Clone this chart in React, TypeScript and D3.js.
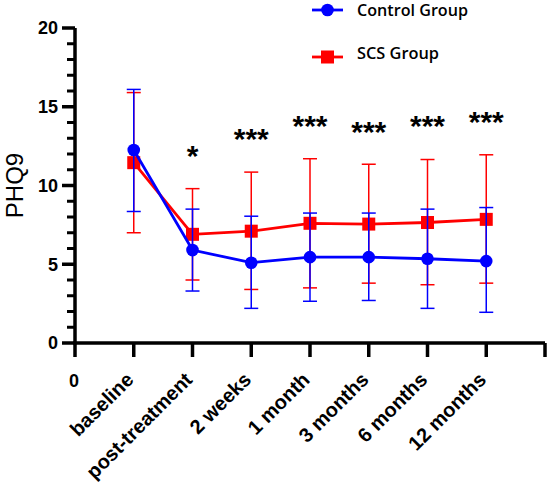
import React from "react";
import * as d3 from "d3";

const categories = ["baseline", "post-treatment", "2 weeks", "1 month", "3 months", "6 months", "12 months"];
const controlMean = [12.25, 5.9, 5.1, 5.45, 5.45, 5.35, 5.2];
const controlUpper = [16.1, 8.5, 8.05, 8.25, 8.25, 8.5, 8.6];
const controlLower = [8.35, 3.3, 2.2, 2.65, 2.7, 2.2, 1.95];
const scsMean = [11.45, 6.9, 7.1, 7.6, 7.55, 7.65, 7.85];
const scsUpper = [15.9, 9.8, 10.85, 11.7, 11.35, 11.65, 11.95];
const scsLower = [7.0, 4.0, 3.4, 3.5, 3.8, 3.7, 3.8];
const sigLabels = ["", "*", "***", "***", "***", "***", "***"];
const sigLevels = [0, 12.25, 13.35, 14.15, 13.8, 14.15, 14.4];
const yTicks = [0, 5, 10, 15, 20];

const W = 550, H = 495;
const BLUE = "#0000ff", RED = "#ff0000";

export default function App() {
  const x = d3.scaleLinear().domain([0, 8]).range([75, 545]);
  const y = d3.scaleLinear().domain([0, 20]).range([343, 28]);
  const idx = categories.map((_, i) => i + 1);
  const line = d3.line<number>().x((_, i) => x(idx[i])).y((d) => y(d));
  const minor = d3.range(0, 21, 1).filter((v) => v % 5 !== 0);
  const cap = 7;

  const errBars = (upper: number[], lower: number[], color: string) =>
    idx.map((xi, i) => (
      <g key={i} stroke={color} strokeWidth={1.5} fill="none">
        <line x1={x(xi)} x2={x(xi)} y1={y(upper[i])} y2={y(lower[i])} />
        <line x1={x(xi) - cap} x2={x(xi) + cap} y1={y(upper[i])} y2={y(upper[i])} />
        <line x1={x(xi) - cap} x2={x(xi) + cap} y1={y(lower[i])} y2={y(lower[i])} />
      </g>
    ));

  const font = "'Liberation Sans', Arial, Helvetica, sans-serif";

  return (
    <svg width={W} height={H} style={{ position: "absolute", left: 0, top: 0 }}>
      <rect width={W} height={H} fill="#fff" />
      {/* Y axis */}
      <line x1={75} x2={75} y1={y(20)} y2={y(0) + 1.5} stroke="#000" strokeWidth={3.5} />
      {yTicks.map((t) => (
        <g key={t}>
          <line x1={62} x2={75} y1={y(t)} y2={y(t)} stroke="#000" strokeWidth={3.5} />
          <text x={58} y={y(t)} dy="0.36em" textAnchor="end" fontFamily={font} fontWeight="bold" fontSize={18}>
            {t}
          </text>
        </g>
      ))}
      {minor.map((t) => (
        <line key={t} x1={67} x2={75} y1={y(t)} y2={y(t)} stroke="#000" strokeWidth={3} />
      ))}
      {/* X axis */}
      <line x1={73.25} x2={545} y1={y(0)} y2={y(0)} stroke="#000" strokeWidth={3.5} />
      {d3.range(0, 9).map((k) => (
        <line key={k} x1={x(k)} x2={x(k)} y1={y(0)} y2={y(0) + 14} stroke="#000" strokeWidth={3.5} />
      ))}
      <text x={x(0) - 1} y={387} textAnchor="middle" fontFamily={font} fontWeight="bold" fontSize={18}>0</text>
      {categories.map((c, i) => (
        <text
          key={c}
          transform={`translate(${x(idx[i]) + 1},${381}) rotate(-45)`}
          textAnchor="end"
          fontFamily={font}
          fontWeight="bold"
          fontSize={20}
        >
          {c}
        </text>
      ))}
      <text
        transform={`translate(${22.5},${y(10)}) rotate(-90)`}
        textAnchor="middle"
        fontFamily={font}
        fontSize={24}
      >
        PHQ9
      </text>

      {/* SCS series */}
      {errBars(scsUpper, scsLower, RED)}
      <path d={line(scsMean) || ""} fill="none" stroke={RED} strokeWidth={2.8} />
      {scsMean.map((v, i) => (
        <rect key={i} x={x(idx[i]) - 6.5} y={y(v) - 6.5} width={13} height={13} fill={RED} />
      ))}
      {/* Control series */}
      {errBars(controlUpper, controlLower, BLUE)}
      <path d={line(controlMean) || ""} fill="none" stroke={BLUE} strokeWidth={2.8} />
      {controlMean.map((v, i) => (
        <circle key={i} cx={x(idx[i])} cy={y(v)} r={6.3} fill={BLUE} />
      ))}

      {/* significance */}
      {sigLabels.map((s, i) =>
        s ? (
          <text key={i} x={x(idx[i])} y={y(sigLevels[i]) + 16} textAnchor="middle" fontFamily={font} fontWeight="bold" fontSize={30}>
            {s}
          </text>
        ) : null
      )}

      {/* legend */}
      <g>
        <line x1={312} x2={343} y1={10} y2={10} stroke={BLUE} strokeWidth={2.8} />
        <circle cx={327.5} cy={10} r={6.3} fill={BLUE} />
        <text x={357} y={16} fontFamily="'Open Sans', sans-serif" fontWeight={600} fontSize={16} textLength={111} lengthAdjust="spacingAndGlyphs">
          Control Group
        </text>
        <line x1={312} x2={343} y1={57} y2={57} stroke={RED} strokeWidth={2.8} />
        <rect x={321} y={50.5} width={13} height={13} fill={RED} />
        <text x={357} y={58.5} fontFamily="'Open Sans', sans-serif" fontWeight={600} fontSize={16} textLength={82} lengthAdjust="spacingAndGlyphs">
          SCS Group
        </text>
      </g>
    </svg>
  );
}
